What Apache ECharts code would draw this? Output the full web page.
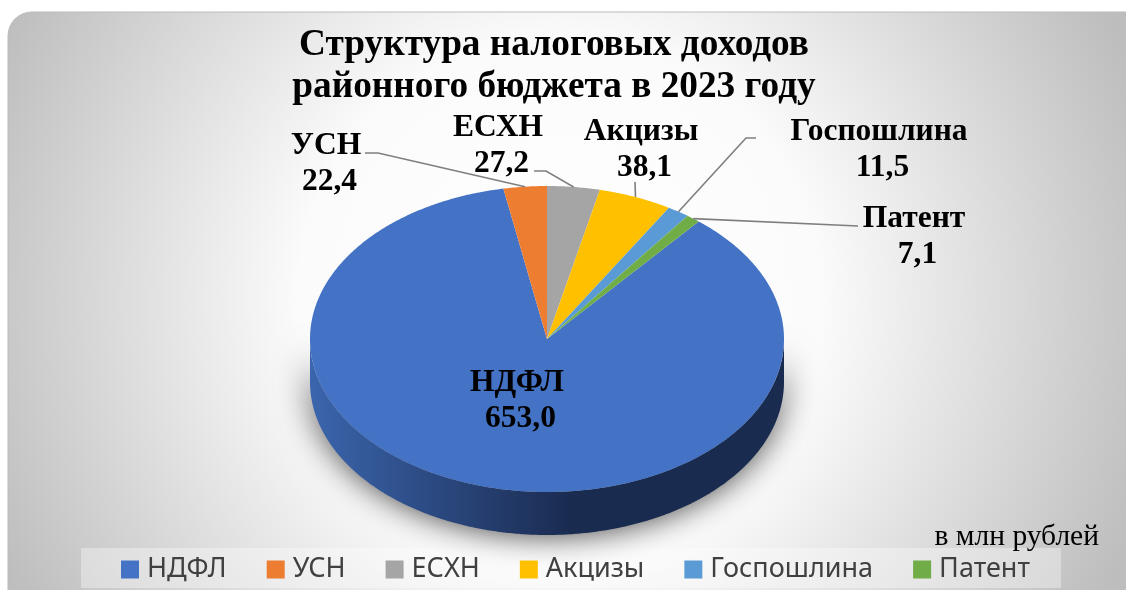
<!DOCTYPE html>
<html>
<head>
<meta charset="utf-8">
<style>
  html, body { margin: 0; padding: 0; background: #fff; }
  #chart { width: 1126px; height: 590px; }
</style>
<script src="https://cdn.jsdelivr.net/npm/echarts@6/dist/echarts.min.js"></script>
</head>
<body>
<div id="chart"></div>
<script>
  // data
  const categories = ['НДФЛ', 'УСН', 'ЕСХН', 'Акцизы', 'Госпошлина', 'Патент'];
  const taxValues = [653.0, 22.4, 27.2, 38.1, 11.5, 7.1];
  const sliceColors = ['#4472C4', '#ED7D31', '#A5A5A5', '#FFC000', '#5B9BD5', '#70AD47'];

  // pie geometry, tilted like the 3D original
  const pie = { cx: 547, cy: 339, rx: 237, ry: 153, depth: 43 };
  const firstAngle = 0; // boundary between УСН and ЕСХН sits at 12 o'clock
  const serif = '"Liberation Serif", serif';

  // label centre and leader line elbows, by category index
  const labelSpots = [
    { x: 517, y: 382.5, elbows: null },
    { x: 326, y: 145.5, elbows: [[378, 153], [365, 153]] },
    { x: 498, y: 127.5, elbows: [[546, 171], [534, 171]] },
    { x: 641, y: 131.5, elbows: [[635, 182]] },
    { x: 879, y: 131.5, elbows: [[746, 138], [756, 138]] },
    { x: 914, y: 218.5, elbows: [[858, 226]] }
  ];
  const valueOffset = { x: 3.5, y: 36.5 };

  const total = taxValues.reduce((a, b) => a + b, 0);

  function sliceRange(idx) {
    // angles run clockwise from the top, НДФЛ goes last so that УСН closes at 360
    let before = 0;
    for (let i = 2; i < idx + (idx >= 2 ? 0 : taxValues.length); i++) {
      before += taxValues[i % taxValues.length];
    }
    const start = firstAngle + before / total * 360;
    return [start, start + taxValues[idx] / total * 360];
  }

  function edgePoint(deg, dy) {
    const a = deg * Math.PI / 180;
    return [pie.cx + pie.rx * Math.sin(a), pie.cy - pie.ry * Math.cos(a) + (dy || 0)];
  }

  function arcPoints(from, to, dy) {
    const pts = [];
    const steps = Math.max(2, Math.ceil((to - from) * 2));
    for (let i = 0; i <= steps; i++) {
      pts.push(edgePoint(from + (to - from) * i / steps, dy));
    }
    return pts;
  }

  function labelText(x, y, text) {
    return {
      type: 'text',
      z2: 4,
      style: {
        x: x,
        y: y,
        text: text,
        fill: '#000',
        font: 'bold 31.5px ' + serif,
        align: 'center',
        verticalAlign: 'middle'
      }
    };
  }

  function renderSlice(params, api) {
    const idx = params.seriesIndex;
    const range = sliceRange(idx);
    const color = sliceColors[idx];
    const children = [];

    // side wall: only the part of the slice on the near half
    const sideFrom = Math.max(range[0], 90);
    const sideTo = Math.min(range[1], 270);
    if (sideTo > sideFrom) {
      const front = arcPoints(sideFrom, sideTo, 0);
      const back = arcPoints(sideFrom, sideTo, pie.depth).reverse();
      children.push({
        type: 'polygon',
        z2: 1,
        shape: { points: front.concat(back) },
        style: {
          fill: new echarts.graphic.LinearGradient(1, 0, 0, 0, [
            { offset: 0, color: '#1a2b50' },
            { offset: 0.45, color: '#1a2b50' },
            { offset: 1, color: '#3b65ad' }
          ]),
          shadowBlur: 32,
          shadowColor: 'rgba(0,0,0,0.75)'
        }
      });
    }

    // top face
    children.push({
      type: 'polygon',
      z2: 2,
      shape: { points: [[pie.cx, pie.cy]].concat(arcPoints(range[0], range[1], 0)) },
      style: { fill: color }
    });

    const spot = labelSpots[idx];
    if (spot.elbows) {
      const mid = (range[0] + range[1]) / 2;
      children.push({
        type: 'polyline',
        z2: 3,
        shape: { points: [edgePoint(mid, 0)].concat(spot.elbows) },
        style: { fill: 'none', stroke: '#7f7f7f', lineWidth: 1.6 }
      });
    }
    children.push(labelText(spot.x, spot.y, categories[idx]));
    children.push(labelText(spot.x + valueOffset.x, spot.y + valueOffset.y,
      api.value(0).toFixed(1).replace('.', ',')));
    return { type: 'group', children: children };
  }

  const chart = echarts.init(document.getElementById('chart'));
  chart.setOption({
    animation: false,
    backgroundColor: '#fff',
    title: {
      text: 'Структура налоговых доходов\nрайонного бюджета в 2023 году',
      left: 549,
      top: 19,
      textAlign: 'center',
      textStyle: { fontFamily: serif, fontWeight: 'bold', fontSize: 37.3, lineHeight: 42, color: '#000' }
    },
    legend: {
      data: categories,
      left: 121,
      top: 556,
      padding: 0,
      itemWidth: 18,
      itemHeight: 18,
      itemGap: 40,
      icon: 'rect',
      textStyle: { fontFamily: '"Noto Sans", sans-serif', fontSize: 27, color: '#404040', padding: [0, 0, 0, 3] }
    },
    graphic: [
      {
        type: 'rect',
        z: -10,
        shape: { x: 8, y: 12, width: 1150, height: 620, r: 24 },
        style: {
          fill: new echarts.graphic.RadialGradient(560, 300, 620, [
            { offset: 0, color: '#ffffff' },
            { offset: 0.42, color: '#fbfbfb' },
            { offset: 1, color: '#bdbdbd' }
          ], true),
          stroke: '#bbbbbb',
          lineWidth: 1
        }
      },
      {
        type: 'rect',
        z: -9,
        shape: { x: 81, y: 548, width: 980, height: 40 },
        style: { fill: 'rgba(255,255,255,0.35)' }
      },
      {
        type: 'text',
        z: 5,
        style: {
          x: 1099,
          y: 537,
          text: 'в млн рублей',
          font: '29.5px ' + serif,
          fill: '#000',
          align: 'right',
          verticalAlign: 'middle'
        }
      }
    ],
    series: categories.map((name, i) => ({
      type: 'custom',
      name: name,
      coordinateSystem: 'none',
      silent: true,
      itemStyle: { color: sliceColors[i] },
      data: [[taxValues[i]]],
      renderItem: renderSlice
    }))
  });
</script>
</body>
</html>
